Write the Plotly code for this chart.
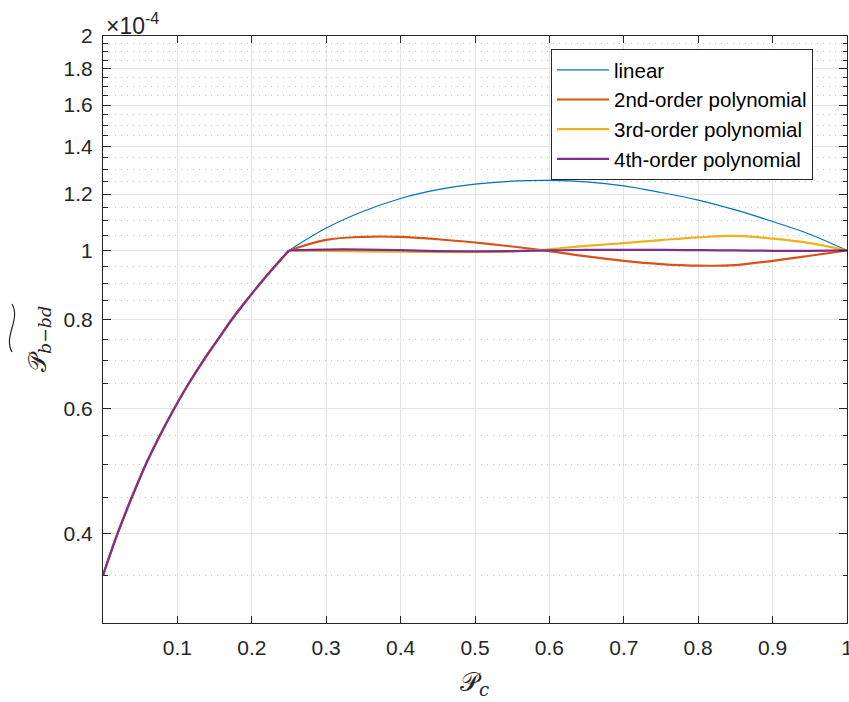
import numpy as np
import plotly.graph_objects as go

# ---------------- data (y values in units of 1e-4) ----------------
SCALE = 1e-4

# rising part, identical for all four models
x_rise = [0.0, 0.0194, 0.0386, 0.0572, 0.0765, 0.0958, 0.1150, 0.1347, 0.1545,
          0.1731, 0.1925, 0.2118, 0.2310, 0.25]
y_rise = [0.35, 0.40, 0.45, 0.50, 0.55, 0.60, 0.65, 0.70, 0.75,
          0.80, 0.85, 0.90, 0.95, 1.00]

# fitted part
x_fit = [0.25, 0.30, 0.35, 0.40, 0.45, 0.50, 0.55, 0.60, 0.65,
         0.70, 0.75, 0.80, 0.85, 0.90, 0.95, 1.00]
y_linear = [1.000, 1.075, 1.135, 1.183, 1.217, 1.239, 1.251, 1.254, 1.248,
            1.232, 1.206, 1.177, 1.140, 1.098, 1.054, 1.000]
y_poly2 = [1.000, 1.035, 1.045, 1.045, 1.037, 1.026, 1.013, 0.998, 0.981,
           0.967, 0.957, 0.952, 0.954, 0.967, 0.983, 1.000]
y_poly3 = [1.000, 0.999, 0.997, 0.996, 0.995, 0.995, 0.997, 1.004, 1.015,
           1.024, 1.034, 1.043, 1.048, 1.039, 1.024, 1.000]
y_poly4 = [1.000, 1.003, 1.003, 1.001, 0.998, 0.997, 0.998, 1.000, 1.002,
           1.002, 1.002, 1.001, 1.000, 0.999, 0.999, 1.000]

series_names = ["linear", "2nd-order polynomial", "3rd-order polynomial", "4th-order polynomial"]
series_values = [y_linear, y_poly2, y_poly3, y_poly4]
series_colors = ["#0072BD", "#D95319", "#EDB120", "#7E2F8E"]
series_widths = [1.2, 2.2, 2.2, 2.2]

x_tick_vals = [0.1, 0.2, 0.3, 0.4, 0.5, 0.6, 0.7, 0.8, 0.9, 1.0]
x_tick_text = ["0.1", "0.2", "0.3", "0.4", "0.5", "0.6", "0.7", "0.8", "0.9", "1"]
y_tick_vals = [0.4, 0.6, 0.8, 1.0, 1.2, 1.4, 1.6, 1.8, 2.0]
y_tick_text = ["0.4", "0.6", "0.8", "1", "1.2", "1.4", "1.6", "1.8", "2"]
y_minor_vals = [v for v in np.round(np.arange(0.30, 2.0001, 0.05), 2)
                if not any(abs(v - m) < 1e-9 for m in y_tick_vals)]

# ---------------- layout constants ----------------
W, H = 849, 702
ML, MR, MT, MB = 103, 2, 36, 79
PW, PH = W - ML - MR, H - MT - MB


def px_x(px):
    return (px - ML) / PW


def px_y(py):
    return (H - MB - py) / PH


AX = "#262626"
FONT = "Liberation Sans, Arial, Helvetica, sans-serif"
TICK_FONT = dict(family=FONT, size=21, color=AX)

fig = go.Figure()

# rising parts (no legend)
for name, col, w in zip(series_names, series_colors, series_widths):
    fig.add_trace(go.Scatter(
        x=x_rise, y=[v * SCALE for v in y_rise], mode="lines",
        line=dict(color=col, width=w, shape="spline", smoothing=1.0),
        legendgroup=name, showlegend=False, hoverinfo="skip"))

# fitted parts
for name, vals, col, w in zip(series_names, series_values, series_colors, series_widths):
    fig.add_trace(go.Scatter(
        x=x_fit, y=[v * SCALE for v in vals], mode="lines", name=name,
        line=dict(color=col, width=w, shape="spline", smoothing=1.0),
        legendgroup=name))

fig.update_layout(
    width=W, height=H,
    margin=dict(l=ML, r=MR, t=MT, b=MB, pad=0, autoexpand=False),
    paper_bgcolor="white", plot_bgcolor="white",
    font=dict(family=FONT, size=20, color=AX),
    showlegend=True,
    legend=dict(x=px_x(551), y=px_y(49), xanchor="left", yanchor="top",
                bgcolor="white", bordercolor=AX, borderwidth=1,
                font=dict(family=FONT, size=20.5, color="#000000"),
                itemwidth=52, tracegroupgap=0),
)

fig.update_xaxes(
    range=[0, 1], tickmode="array", tickvals=x_tick_vals, ticktext=x_tick_text,
    showline=True, linecolor=AX, linewidth=1, mirror="allticks",
    ticks="inside", ticklen=7, tickcolor=AX, tickwidth=1,
    showgrid=True, gridcolor="#e4e4e4", gridwidth=1,
    zeroline=False, ticklabelstandoff=6, automargin=False,
    ticklabeloverflow="allow",
    tickfont=TICK_FONT,
)

fig.update_yaxes(
    type="log", range=[np.log10(0.3 * SCALE), np.log10(2.0 * SCALE)],
    tickmode="array", tickvals=[v * SCALE for v in y_tick_vals], ticktext=y_tick_text,
    showline=True, linecolor=AX, linewidth=1, mirror="allticks",
    ticks="inside", ticklen=8, tickcolor=AX, tickwidth=1,
    showgrid=True, gridcolor="#e4e4e4", gridwidth=1,
    zeroline=False, ticklabelstandoff=5, automargin=False,
    ticklabeloverflow="allow",
    tickfont=TICK_FONT,
    minor=dict(tickmode="array", tickvals=[v * SCALE for v in y_minor_vals],
               ticks="inside", ticklen=4.5, tickcolor=AX, tickwidth=1,
               showgrid=True, gridcolor="#c2c2c2", griddash="1px,5px", gridwidth=1),
)

# exponent label
fig.add_annotation(x=px_x(104), y=px_y(24), xref="paper", yref="paper",
                   xanchor="left", yanchor="middle", showarrow=False,
                   text="×10<sup>-4</sup>", font=dict(family=FONT, size=23, color=AX))

# x-axis label
fig.add_annotation(x=px_x(474), y=px_y(683), xref="paper", yref="paper",
                   xanchor="center", yanchor="middle", showarrow=False,
                   text="𝒫<sub><i>c</i></sub>",
                   font=dict(family="DejaVu Serif, serif", size=26, color=AX))

# y-axis label
fig.add_annotation(x=px_x(39), y=px_y(339), xref="paper", yref="paper",
                   xanchor="center", yanchor="middle", showarrow=False, textangle=-90,
                   text="𝒫<sub><i>b−bd</i></sub>",
                   font=dict(family="DejaVu Serif, serif", size=25, color=AX))

# wide tilde over the y-axis label
p0 = (px_x(12), px_y(352))
c1 = (px_x(3), px_y(336))
c2 = (px_x(21), px_y(320))
p1 = (px_x(12), px_y(304))
fig.add_shape(type="path", xref="paper", yref="paper",
              path=f"M {p0[0]},{p0[1]} C {c1[0]},{c1[1]} {c2[0]},{c2[1]} {p1[0]},{p1[1]}",
              line=dict(color=AX, width=1.2))

fig.write_html("out.html", config={"displayModeBar": False})

# remove the default page margin so the figure sits at the window's top-left corner
with open("out.html", "r", encoding="utf-8") as f:
    html = f.read()
html = html.replace("<head>", "<head><style>html,body{margin:0;padding:0;}</style>", 1)
with open("out.html", "w", encoding="utf-8") as f:
    f.write(html)
